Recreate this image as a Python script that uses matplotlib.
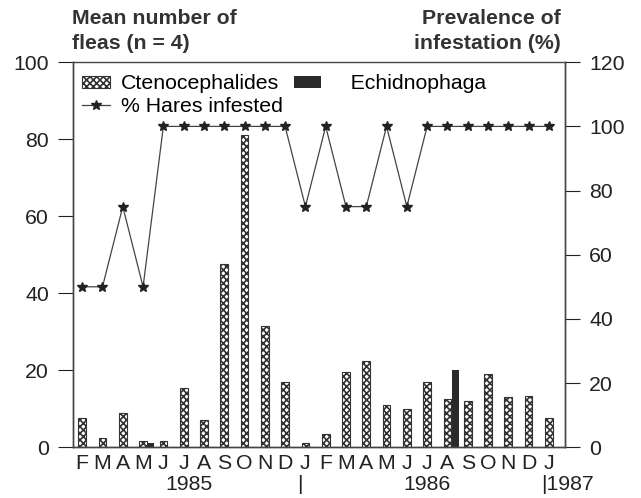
import numpy as np
import matplotlib.pyplot as plt

plt.rcParams['font.family'] = ['Liberation Sans', 'DejaVu Sans']
plt.rcParams['hatch.linewidth'] = 1.2

# Feb 1985 - Jan 1987
months = ['F', 'M', 'A', 'M', 'J', 'J', 'A', 'S', 'O', 'N', 'D', 'J',
          'F', 'M', 'A', 'M', 'J', 'J', 'A', 'S', 'O', 'N', 'D', 'J']
cteno = [7.5, 2.5, 9, 1.5, 1.5, 15.5, 7, 47.5, 81, 31.5, 17, 1,
         3.5, 19.5, 22.5, 11, 10, 17, 12.5, 12, 19, 13, 13.3, 7.5]
echid = [0, 0, 0, 1, 0, 0, 0, 0, 0, 0, 0, 0,
         0, 0, 0, 0, 0, 0, 20, 0, 0, 0, 0, 0]
prevalence = [50, 50, 75, 50, 100, 100, 100, 100, 100, 100, 100, 75,
              100, 75, 75, 100, 75, 100, 100, 100, 100, 100, 100, 100]
years = [('1985', 5.25), ('|', 10.75), ('1986', 17.0), ('|1987', 23.9)]

fs = 15.3
x = np.arange(len(months))
w = 0.38

fig = plt.figure(figsize=(6.41, 4.98), dpi=100)
ax = fig.add_axes([0.114, 0.102, 0.767, 0.773])

b1 = ax.bar(x, cteno, width=w, facecolor='white', edgecolor='#333333',
            hatch='xxxxx', linewidth=0.8, label='Ctenocephalides')
b2 = ax.bar(x + w, echid, width=w * 0.9, color='#2a2a2a',
            label='Echidnophaga')
ax.set_ylim(0, 100)
ax.set_xlim(-0.45, 23.78)
ax.set_yticks([0, 20, 40, 60, 80, 100])
ax.set_xticks(x)
ax.set_xticklabels(months)
ax.tick_params(axis='x', length=0, pad=5, labelsize=fs, colors='#222222')
ax.tick_params(axis='y', direction='out', length=10.5, pad=7, labelsize=fs,
               colors='#222222')

ax2 = ax.twinx()
ln, = ax2.plot(x, prevalence, color='#444444', lw=0.9, marker='*', ms=7.5,
               mfc='#222222', mec='#222222', label='% Hares infested')
ax2.set_ylim(0, 120)
ax2.set_yticks([0, 20, 40, 60, 80, 100, 120])
ax2.tick_params(axis='y', direction='out', length=10.5, pad=7, labelsize=fs,
                colors='#222222')

for a in (ax, ax2):
    for s in a.spines.values():
        s.set_color('#444444')
        s.set_linewidth(1)
ax.spines['top'].set_linewidth(0.6)

ax.legend([b1, ln, b2],
          ['Ctenocephalides', '% Hares infested', '   Echidnophaga'],
          ncol=2, loc='upper left', frameon=False, fontsize=fs,
          handlelength=1.3, handleheight=0.45, handletextpad=0.55,
          columnspacing=0.5, borderaxespad=0.0, borderpad=0.3,
          labelspacing=0.15, bbox_to_anchor=(0.005, 0.985))

for lab, xp in years:
    ax.text(xp, -0.072, lab, transform=ax.get_xaxis_transform(),
            ha='center', va='top', fontsize=fs, color='#222222')

fig.text(0.112, 0.982, 'Mean number of\nfleas (n = 4)', ha='left', va='top',
         fontsize=fs, fontweight='bold', color='#333333', linespacing=1.4)
fig.text(0.875, 0.982, 'Prevalence of\ninfestation (%)', ha='right', va='top',
         fontsize=fs, fontweight='bold', color='#333333', linespacing=1.4)

fig.savefig('out.png', dpi=100)
